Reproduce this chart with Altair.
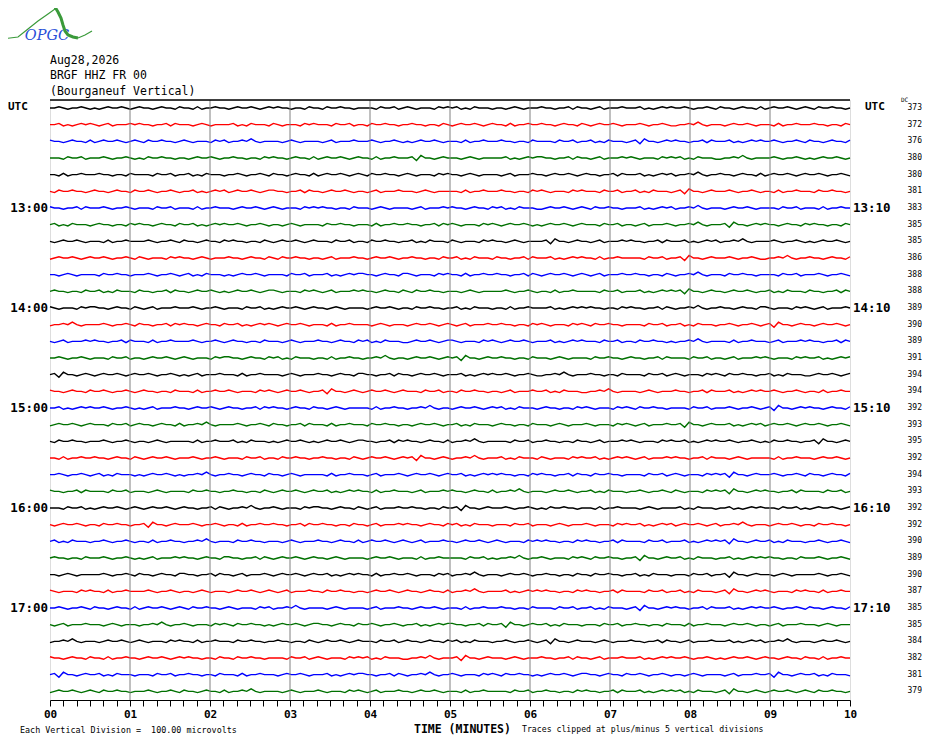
import altair as alt
import pandas as pd

# ---------------- data ----------------
station_lines = ["Aug28,2026", "BRGF HHZ FR 00", "(Bourganeuf Vertical)"]
left_hour_labels = ["13:00", "14:00", "15:00", "16:00", "17:00"]
right_hour_labels = ["13:10", "14:10", "15:10", "16:10", "17:10"]
hour_rows = [6, 12, 18, 24, 30]
dc_values = [373, 372, 376, 380, 380, 381, 383, 385, 385, 386, 388, 388,
             389, 390, 389, 391, 394, 394, 392, 393, 395, 392, 394, 393,
             392, 392, 390, 389, 390, 387, 385, 385, 384, 382, 381, 379]
trace_colors = ["#000000", "#ff0000", "#0000ff", "#007000"]
grid_minutes = [1, 2, 3, 4, 5, 6, 7, 8, 9]

# wiggle pieces (digit 4 = trace baseline)
wiggle_segments = {
    "A": "4454344543", "B": "4345445434", "C": "5443454435", "D": "4435344544",
    "E": "3454454345", "F": "4544344354", "G": "4354454434", "H": "4443544534",
    "I": "5434443545", "J": "4534354443", "K": "3445464344", "L": "4526443454",
    "M": "4434543444", "N": "5443445354", "O": "4345344454", "P": "4453434545",
}
# which pieces make up each of the 36 ten-minute traces, left to right
wiggle_patterns = [
    "ABCDEFGHIJMNOPACEG", "PONMJIHGFEDCBAKBDF", "CEGIKMOABDFHJLNPAC", "HAGBFCEDLMPNOIJKAB",
    "DFHJACEGIMOBNPKCEA", "GCAPENBOMDFIHJLADG", "NAHDBIFMOCJEGPKBHD", "JFCPAMGDNIBEHOKLCF",
    "BDACFEHGJIMLONPKAB", "EAIMCGOBFJNPDHLAKC", "MGAJBHPCIDNEOFKGHA", "FJNBEIOCGMADHPLBJN",
    "ICOAHEMBGJDPFNKCIO", "KANCPBDMEOFIGHJALB", "ONDAFMCJEIBPHGKDON", "AHBICJDKELFMGNHOIP",
    "LEAODMCNBPAKFHIGJE", "CAFDIBLEHGOJKMNPAD", "PAOBNCMDKEJFIGHALC", "EHCKANDGBJFMIOLPEA",
    "GAMDJBENCKHFOIPAGL", "DCBAHGFELKJIPONMDB", "AJBKCMDOEPFNGHILAC", "NHMGFEPDOCKBJAILNH",
    "HEBNKICOFLAGDMJPHE", "BGLADNFOCJHMIPEKBG", "JADKGMCEOBIFNHPLJA", "FAOCNEMBDHKIGLJPFA",
    "MACNOEPDIKBFGJHLMA", "IDAMEOGBCKPFNHJLID", "ACEGIKMOBDFHJLNPAC", "OMKIGECAPNLJHFDBOM",
    "KBIDGFEHCJALMNOPKB", "CDEFGHIJKLMNOPABCD", "LJHFDBPNKIGECAMOLJ", "EGACKMIOBDHFNPJLEG",
]

# OPGC logo outline (page pixels)
logo_thin_x = [2, 18, 28, 38, 48, 55, 55]
logo_thin_y = [39, 37, 29, 21, 14, 9, 3]
logo_thick_x = [55, 58, 61, 63, 65, 68, 73, 78]
logo_thick_y = [7, 12, 18, 25, 31, 35, 37, 38]
logo_tail_x = [78, 85, 92]
logo_tail_y = [38, 35, 31]

# ---------------- layout constants ----------------
W, H = 800, 600
X0, Y0 = 50, 100            # plot origin on the page
PX_PER_MIN = W / 10.0
PX_PER_ROW = H / 36.0
Y_DOMAIN = [-0.48, 35.52]
STEP = 0.075                # trace units per wiggle digit
MONO = "DejaVu Sans Mono"

# ---------------- tables ----------------
rows = []
for i, pattern in enumerate(wiggle_patterns):
    s = "".join(wiggle_segments[p] for p in pattern)
    n = len(s)
    for k, ch in enumerate(s):
        rows.append({"trace": i, "c": str(i % 4), "minute": 10.0 * k / (n - 1),
                     "y": i - (int(ch) - 4) * STEP})
traces = pd.DataFrame(rows)


def px_to_data(xs, ys):
    return pd.DataFrame({
        "minute": [(x - X0) / PX_PER_MIN for x in xs],
        "y": [Y_DOMAIN[0] + (y - Y0) / PX_PER_ROW for y in ys],
        "ord": list(range(len(xs))),
    })


hours_df = pd.DataFrame({"row": hour_rows, "left": left_hour_labels, "right": right_hour_labels})
dc_df = pd.DataFrame({"row": list(range(len(dc_values))), "dc": [str(v) for v in dc_values]})
grid_df = pd.DataFrame({"minute": grid_minutes})
one = pd.DataFrame({"k": [0]})

xscale = alt.Scale(domain=[0, 10], nice=False, zero=False)
yscale = alt.Scale(domain=Y_DOMAIN, reverse=True, nice=False, zero=False)

tick_values = [round(k / 6.0, 6) for k in range(61)]
label_expr = ("abs(datum.value - round(datum.value)) < 0.001 ? "
              "(round(datum.value) < 10 ? '0' + round(datum.value) : '' + round(datum.value)) : ''")
xaxis = alt.Axis(values=tick_values, labelExpr=label_expr, grid=False, title=None,
                 tickSize=6, tickColor="#000000", tickWidth=1,
                 domainColor="#000000", domainWidth=1,
                 labelFont=MONO, labelFontWeight="bold", labelFontSize=11,
                 labelColor="#000000", labelPadding=2,
                 labelOverlap=False, labelFlush=False)
X = alt.X("minute:Q", scale=xscale, axis=xaxis)

lines = alt.Chart(traces).mark_line(strokeWidth=1.4, clip=False).encode(
    x=X,
    y=alt.Y("y:Q", scale=yscale, axis=None),
    color=alt.Color("c:N", scale=alt.Scale(domain=["0", "1", "2", "3"], range=trace_colors), legend=None),
    detail="trace:N",
    order="minute:Q",
)

grid = alt.Chart(grid_df).mark_rule(color="#808080", strokeWidth=1).encode(x=X)

top_line = alt.Chart(one).mark_rule(color="#000000", strokeWidth=1.5).encode(
    x=alt.value(0), x2=alt.value(W), y=alt.value(0))


def txt(text, x, y, size, weight="normal", align="left", font=MONO, color="#000000", style="normal"):
    return alt.Chart(one).mark_text(text=text, align=align, baseline="middle", font=font,
                                    fontSize=size, fontWeight=weight, color=color,
                                    fontStyle=style, clip=False).encode(
        x=alt.value(x - X0), y=alt.value(y - Y0))


NB = "\u00a0"
header = [txt(t, 50, y, 11.5) for t, y in zip(station_lines, [61, 76, 92])]
others = [
    txt("UTC", 8, 107, 11, weight="bold"),
    txt("UTC", 865, 107, 11, weight="bold"),
    txt("DC", 901, 100, 6),
    txt("Each Vertical Division =" + NB + NB + "100.00 microvolts", 20, 730, 8.4),
    txt("TIME (MINUTES)", 414, 729.5, 11.5, weight="bold"),
    txt("Traces clipped at plus/minus 5 vertical divisions", 522, 730, 8.2),
    txt("OPGC", 47, 36, 14.5, align="center", font="DejaVu Serif", color="#2a4fd8", style="italic"),
]

left_hours = alt.Chart(hours_df).mark_text(align="right", baseline="middle", font=MONO, fontSize=12.5,
                                           fontWeight="bold", color="#000000", clip=False).encode(
    x=alt.value(-2), y=alt.Y("row:Q", scale=yscale, axis=None), text="left:N")
right_hours = alt.Chart(hours_df).mark_text(align="left", baseline="middle", font=MONO, fontSize=12.5,
                                            fontWeight="bold", color="#000000", clip=False).encode(
    x=alt.value(803), y=alt.Y("row:Q", scale=yscale, axis=None), text="right:N")
dc_text = alt.Chart(dc_df).mark_text(align="right", baseline="middle", font=MONO, fontSize=8,
                                     color="#000000", clip=False).encode(
    x=alt.value(872), y=alt.Y("row:Q", scale=yscale, axis=None), text="dc:N")


def logo_line(xs, ys, width):
    return alt.Chart(px_to_data(xs, ys)).mark_line(color="#3a9a3a", strokeWidth=width, clip=False).encode(
        x=X,
        y=alt.Y("y:Q", scale=yscale, axis=None),
        order="ord:Q")


logo = [logo_line(logo_thin_x, logo_thin_y, 1.2),
        logo_line(logo_thick_x, logo_thick_y, 3),
        logo_line(logo_tail_x, logo_tail_y, 1.2)]

chart = alt.layer(lines, grid, top_line, left_hours, right_hours, dc_text,
                  *header, *others, *logo).properties(
    width=W, height=H,
    autosize=alt.AutoSizeParams(type="none"),
    padding={"left": 42, "top": 92, "right": 72, "bottom": 36},
).configure_view(stroke="#808080", strokeWidth=1).configure(background="#ffffff")

chart.save("out.html", embed_options={"renderer": "svg", "actions": False})
